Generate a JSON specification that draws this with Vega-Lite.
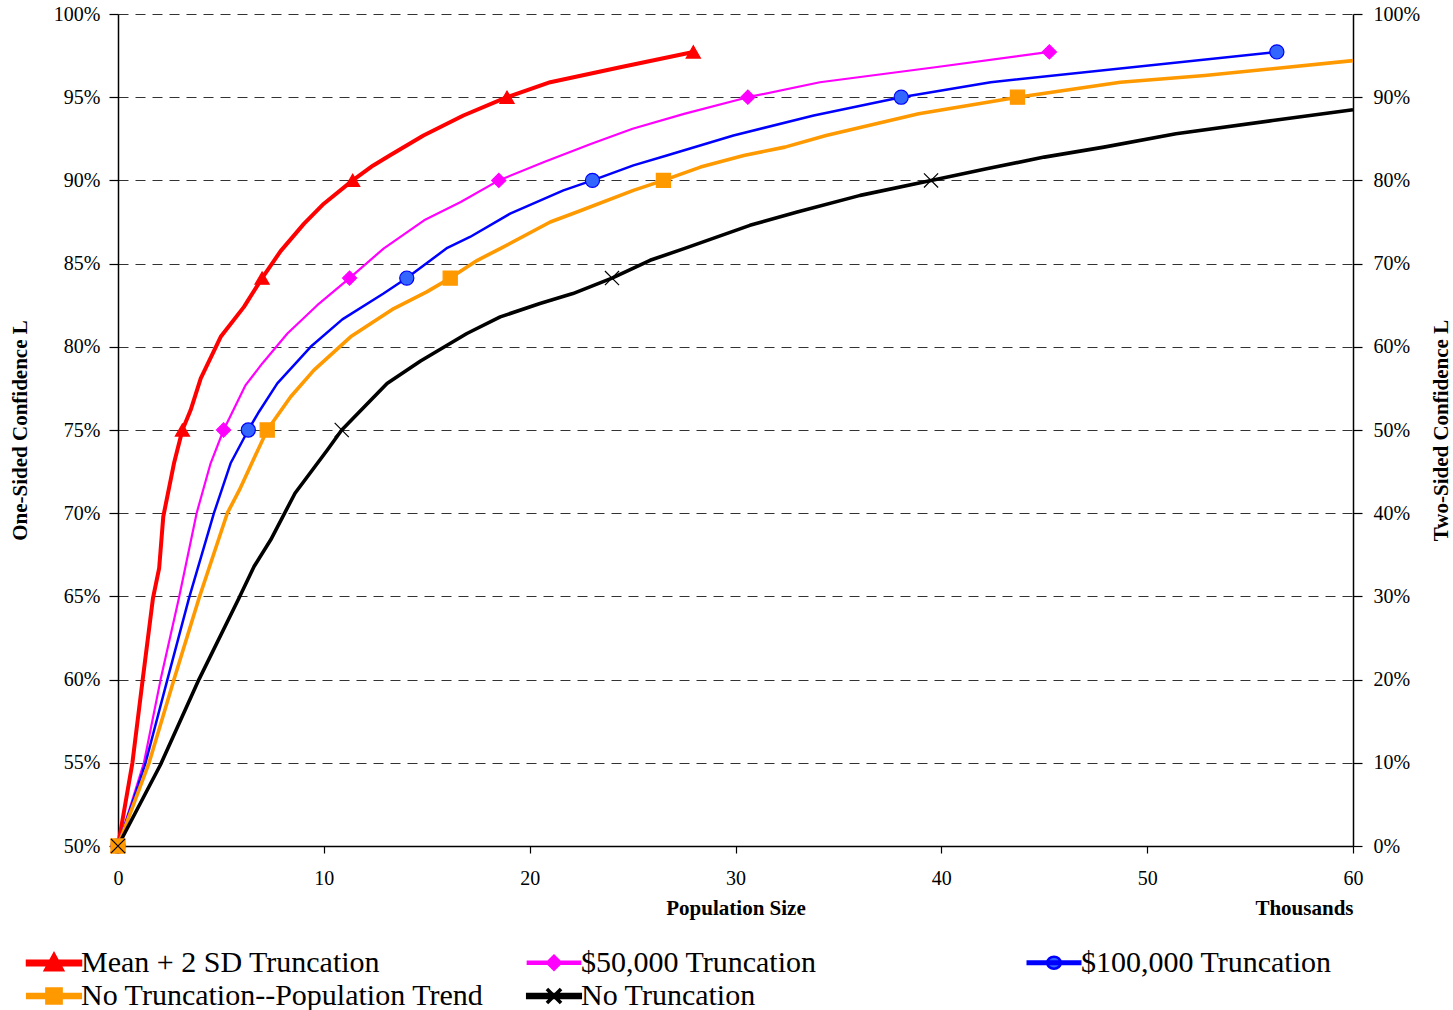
{
  "$schema": "https://vega.github.io/schema/vega-lite/v6.json",
  "width": 1235,
  "height": 832,
  "autosize": {"type": "none"},
  "padding": {"left": 118, "top": 14, "right": 100, "bottom": 164},
  "background": "white",
  "config": {"view": {"stroke": null}, "font": "Liberation Serif"},
  "datasets": {
    "curves": [
      {"series": "Mean + 2 SD Truncation", "x": 0, "p": 0.5},
      {"series": "Mean + 2 SD Truncation", "x": 0.7, "p": 0.55},
      {"series": "Mean + 2 SD Truncation", "x": 1.2, "p": 0.6},
      {"series": "Mean + 2 SD Truncation", "x": 1.7, "p": 0.649},
      {"series": "Mean + 2 SD Truncation", "x": 2.0, "p": 0.667},
      {"series": "Mean + 2 SD Truncation", "x": 2.2, "p": 0.698},
      {"series": "Mean + 2 SD Truncation", "x": 2.72, "p": 0.73},
      {"series": "Mean + 2 SD Truncation", "x": 3.13, "p": 0.75},
      {"series": "Mean + 2 SD Truncation", "x": 3.53, "p": 0.762},
      {"series": "Mean + 2 SD Truncation", "x": 4.02, "p": 0.781},
      {"series": "Mean + 2 SD Truncation", "x": 4.99, "p": 0.806},
      {"series": "Mean + 2 SD Truncation", "x": 6.12, "p": 0.824},
      {"series": "Mean + 2 SD Truncation", "x": 7.0, "p": 0.8413},
      {"series": "Mean + 2 SD Truncation", "x": 7.9, "p": 0.8575},
      {"series": "Mean + 2 SD Truncation", "x": 9.04, "p": 0.874},
      {"series": "Mean + 2 SD Truncation", "x": 10.0, "p": 0.886},
      {"series": "Mean + 2 SD Truncation", "x": 11.4, "p": 0.9},
      {"series": "Mean + 2 SD Truncation", "x": 12.4, "p": 0.909},
      {"series": "Mean + 2 SD Truncation", "x": 13.2, "p": 0.915},
      {"series": "Mean + 2 SD Truncation", "x": 14.84, "p": 0.927},
      {"series": "Mean + 2 SD Truncation", "x": 16.78, "p": 0.939},
      {"series": "Mean + 2 SD Truncation", "x": 18.9, "p": 0.95},
      {"series": "Mean + 2 SD Truncation", "x": 21.0, "p": 0.959},
      {"series": "Mean + 2 SD Truncation", "x": 24.4, "p": 0.968},
      {"series": "Mean + 2 SD Truncation", "x": 27.95, "p": 0.9772},
      {"series": "$50,000 Truncation", "x": 0, "p": 0.5},
      {"series": "$50,000 Truncation", "x": 1.26, "p": 0.55},
      {"series": "$50,000 Truncation", "x": 2.07, "p": 0.6},
      {"series": "$50,000 Truncation", "x": 2.96, "p": 0.649},
      {"series": "$50,000 Truncation", "x": 3.82, "p": 0.7},
      {"series": "$50,000 Truncation", "x": 4.5, "p": 0.73},
      {"series": "$50,000 Truncation", "x": 5.13, "p": 0.75},
      {"series": "$50,000 Truncation", "x": 6.2, "p": 0.777},
      {"series": "$50,000 Truncation", "x": 7.01, "p": 0.79},
      {"series": "$50,000 Truncation", "x": 8.23, "p": 0.808},
      {"series": "$50,000 Truncation", "x": 9.68, "p": 0.825},
      {"series": "$50,000 Truncation", "x": 11.25, "p": 0.8413},
      {"series": "$50,000 Truncation", "x": 12.9, "p": 0.859},
      {"series": "$50,000 Truncation", "x": 14.87, "p": 0.876},
      {"series": "$50,000 Truncation", "x": 16.65, "p": 0.887},
      {"series": "$50,000 Truncation", "x": 18.5, "p": 0.9},
      {"series": "$50,000 Truncation", "x": 20.7, "p": 0.911},
      {"series": "$50,000 Truncation", "x": 23.0, "p": 0.922},
      {"series": "$50,000 Truncation", "x": 25.0, "p": 0.931},
      {"series": "$50,000 Truncation", "x": 27.5, "p": 0.94},
      {"series": "$50,000 Truncation", "x": 30.6, "p": 0.95},
      {"series": "$50,000 Truncation", "x": 34.1, "p": 0.959},
      {"series": "$50,000 Truncation", "x": 39.7, "p": 0.968},
      {"series": "$50,000 Truncation", "x": 45.25, "p": 0.9772},
      {"series": "$100,000 Truncation", "x": 0, "p": 0.5},
      {"series": "$100,000 Truncation", "x": 1.34, "p": 0.55},
      {"series": "$100,000 Truncation", "x": 2.4, "p": 0.6},
      {"series": "$100,000 Truncation", "x": 3.45, "p": 0.649},
      {"series": "$100,000 Truncation", "x": 4.66, "p": 0.7},
      {"series": "$100,000 Truncation", "x": 5.47, "p": 0.73},
      {"series": "$100,000 Truncation", "x": 6.33, "p": 0.75},
      {"series": "$100,000 Truncation", "x": 6.85, "p": 0.761},
      {"series": "$100,000 Truncation", "x": 7.74, "p": 0.778},
      {"series": "$100,000 Truncation", "x": 9.36, "p": 0.8},
      {"series": "$100,000 Truncation", "x": 10.9, "p": 0.8165},
      {"series": "$100,000 Truncation", "x": 12.9, "p": 0.832},
      {"series": "$100,000 Truncation", "x": 14.03, "p": 0.8413},
      {"series": "$100,000 Truncation", "x": 16.0, "p": 0.8595},
      {"series": "$100,000 Truncation", "x": 17.1, "p": 0.866},
      {"series": "$100,000 Truncation", "x": 19.05, "p": 0.88},
      {"series": "$100,000 Truncation", "x": 21.64, "p": 0.894},
      {"series": "$100,000 Truncation", "x": 23.05, "p": 0.9},
      {"series": "$100,000 Truncation", "x": 25.04, "p": 0.909},
      {"series": "$100,000 Truncation", "x": 26.66, "p": 0.915},
      {"series": "$100,000 Truncation", "x": 29.9, "p": 0.927},
      {"series": "$100,000 Truncation", "x": 33.8, "p": 0.939},
      {"series": "$100,000 Truncation", "x": 38.05, "p": 0.95},
      {"series": "$100,000 Truncation", "x": 42.4, "p": 0.959},
      {"series": "$100,000 Truncation", "x": 56.3, "p": 0.9772},
      {"series": "No Truncation--Population Trend", "x": 0, "p": 0.5},
      {"series": "No Truncation--Population Trend", "x": 1.51, "p": 0.55},
      {"series": "No Truncation--Population Trend", "x": 2.72, "p": 0.6},
      {"series": "No Truncation--Population Trend", "x": 3.94, "p": 0.649},
      {"series": "No Truncation--Population Trend", "x": 5.31, "p": 0.7},
      {"series": "No Truncation--Population Trend", "x": 5.9, "p": 0.714},
      {"series": "No Truncation--Population Trend", "x": 6.61, "p": 0.733},
      {"series": "No Truncation--Population Trend", "x": 7.25, "p": 0.75},
      {"series": "No Truncation--Population Trend", "x": 8.39, "p": 0.77},
      {"series": "No Truncation--Population Trend", "x": 9.52, "p": 0.786},
      {"series": "No Truncation--Population Trend", "x": 11.3, "p": 0.806},
      {"series": "No Truncation--Population Trend", "x": 13.4, "p": 0.823},
      {"series": "No Truncation--Population Trend", "x": 15.0, "p": 0.833},
      {"series": "No Truncation--Population Trend", "x": 16.14, "p": 0.8413},
      {"series": "No Truncation--Population Trend", "x": 17.46, "p": 0.852},
      {"series": "No Truncation--Population Trend", "x": 18.57, "p": 0.859},
      {"series": "No Truncation--Population Trend", "x": 21.0, "p": 0.875},
      {"series": "No Truncation--Population Trend", "x": 22.3, "p": 0.881},
      {"series": "No Truncation--Population Trend", "x": 25.04, "p": 0.894},
      {"series": "No Truncation--Population Trend", "x": 26.5, "p": 0.9},
      {"series": "No Truncation--Population Trend", "x": 28.3, "p": 0.908},
      {"series": "No Truncation--Population Trend", "x": 30.4, "p": 0.915},
      {"series": "No Truncation--Population Trend", "x": 32.4, "p": 0.92},
      {"series": "No Truncation--Population Trend", "x": 34.4, "p": 0.927},
      {"series": "No Truncation--Population Trend", "x": 38.9, "p": 0.94},
      {"series": "No Truncation--Population Trend", "x": 43.7, "p": 0.95},
      {"series": "No Truncation--Population Trend", "x": 48.7, "p": 0.959},
      {"series": "No Truncation--Population Trend", "x": 52.8, "p": 0.963},
      {"series": "No Truncation--Population Trend", "x": 60, "p": 0.972},
      {"series": "No Truncation", "x": 0, "p": 0.5},
      {"series": "No Truncation", "x": 2.07, "p": 0.549},
      {"series": "No Truncation", "x": 3.93, "p": 0.6},
      {"series": "No Truncation", "x": 5.88, "p": 0.649},
      {"series": "No Truncation", "x": 6.61, "p": 0.668},
      {"series": "No Truncation", "x": 7.42, "p": 0.684},
      {"series": "No Truncation", "x": 8.6, "p": 0.712},
      {"series": "No Truncation", "x": 10.17, "p": 0.738},
      {"series": "No Truncation", "x": 10.87, "p": 0.75},
      {"series": "No Truncation", "x": 13.07, "p": 0.778},
      {"series": "No Truncation", "x": 14.7, "p": 0.7915},
      {"series": "No Truncation", "x": 16.95, "p": 0.808},
      {"series": "No Truncation", "x": 18.57, "p": 0.818},
      {"series": "No Truncation", "x": 20.5, "p": 0.826},
      {"series": "No Truncation", "x": 22.1, "p": 0.832},
      {"series": "No Truncation", "x": 24.0, "p": 0.8413},
      {"series": "No Truncation", "x": 25.85, "p": 0.852},
      {"series": "No Truncation", "x": 27.5, "p": 0.859},
      {"series": "No Truncation", "x": 30.7, "p": 0.873},
      {"series": "No Truncation", "x": 33.0, "p": 0.881},
      {"series": "No Truncation", "x": 36.06, "p": 0.891},
      {"series": "No Truncation", "x": 39.5, "p": 0.9},
      {"series": "No Truncation", "x": 42.2, "p": 0.907},
      {"series": "No Truncation", "x": 45.0, "p": 0.914},
      {"series": "No Truncation", "x": 47.9, "p": 0.92},
      {"series": "No Truncation", "x": 51.4, "p": 0.928},
      {"series": "No Truncation", "x": 56.1, "p": 0.936},
      {"series": "No Truncation", "x": 60, "p": 0.9425}
    ],
    "markers": [
      {"series": "Mean + 2 SD Truncation", "x": 0, "p": 0.5, "two_sided": 0},
      {"series": "Mean + 2 SD Truncation", "x": 3.13, "p": 0.75, "two_sided": 0.5},
      {"series": "Mean + 2 SD Truncation", "x": 7.0, "p": 0.8413, "two_sided": 0.6826},
      {"series": "Mean + 2 SD Truncation", "x": 11.4, "p": 0.9, "two_sided": 0.8},
      {"series": "Mean + 2 SD Truncation", "x": 18.9, "p": 0.95, "two_sided": 0.9},
      {"series": "Mean + 2 SD Truncation", "x": 27.95, "p": 0.9772, "two_sided": 0.9544},
      {"series": "$50,000 Truncation", "x": 0, "p": 0.5, "two_sided": 0},
      {"series": "$50,000 Truncation", "x": 5.13, "p": 0.75, "two_sided": 0.5},
      {"series": "$50,000 Truncation", "x": 11.25, "p": 0.8413, "two_sided": 0.6826},
      {"series": "$50,000 Truncation", "x": 18.5, "p": 0.9, "two_sided": 0.8},
      {"series": "$50,000 Truncation", "x": 30.6, "p": 0.95, "two_sided": 0.9},
      {"series": "$50,000 Truncation", "x": 45.25, "p": 0.9772, "two_sided": 0.9544},
      {"series": "$100,000 Truncation", "x": 0, "p": 0.5, "two_sided": 0},
      {"series": "$100,000 Truncation", "x": 6.33, "p": 0.75, "two_sided": 0.5},
      {"series": "$100,000 Truncation", "x": 14.03, "p": 0.8413, "two_sided": 0.6826},
      {"series": "$100,000 Truncation", "x": 23.05, "p": 0.9, "two_sided": 0.8},
      {"series": "$100,000 Truncation", "x": 38.05, "p": 0.95, "two_sided": 0.9},
      {"series": "$100,000 Truncation", "x": 56.3, "p": 0.9772, "two_sided": 0.9544},
      {"series": "No Truncation--Population Trend", "x": 0, "p": 0.5, "two_sided": 0},
      {"series": "No Truncation--Population Trend", "x": 7.25, "p": 0.75, "two_sided": 0.5},
      {"series": "No Truncation--Population Trend", "x": 16.14, "p": 0.8413, "two_sided": 0.6826},
      {"series": "No Truncation--Population Trend", "x": 26.5, "p": 0.9, "two_sided": 0.8},
      {"series": "No Truncation--Population Trend", "x": 43.7, "p": 0.95, "two_sided": 0.9},
      {"series": "No Truncation", "x": 0, "p": 0.5, "two_sided": 0},
      {"series": "No Truncation", "x": 10.87, "p": 0.75, "two_sided": 0.5},
      {"series": "No Truncation", "x": 24.0, "p": 0.8413, "two_sided": 0.6826},
      {"series": "No Truncation", "x": 39.5, "p": 0.9, "two_sided": 0.8}
    ]
  },
  "layer": [
    {
      "layer": [
        {
          "data": {"name": "curves"},
          "mark": {"type": "line", "strokeJoin": "round", "strokeCap": "butt"},
          "encoding": {
            "x": {
              "field": "x", "type": "quantitative",
              "scale": {"domain": [0, 60], "nice": false, "zero": false},
              "axis": {
                "orient": "bottom", "values": [0, 10, 20, 30, 40, 50, 60], "format": "d",
                "grid": false, "tickSize": 7, "tickColor": "black", "tickWidth": 1.2,
                "domainColor": "black", "domainWidth": 1.5, "labelFlush": false,
                "labelFont": "Liberation Serif", "labelFontSize": 20, "labelColor": "black", "labelPadding": 15,
                "title": "Population Size", "titleFont": "Liberation Serif", "titleFontSize": 21,
                "titleFontWeight": "bold", "titleColor": "black", "titlePadding": 9
              }
            },
            "y": {
              "field": "p", "type": "quantitative",
              "scale": {"domain": [0.5, 1], "nice": false, "zero": false},
              "axis": {
                "orient": "left", "values": [0.5, 0.55, 0.6, 0.65, 0.7, 0.75, 0.8, 0.85, 0.9, 0.95, 1.0],
                "format": ".0%", "grid": true, "gridDash": [10, 7], "gridColor": "#333333", "gridWidth": 1, "gridOpacity": 1,
                "tickSize": 9, "tickColor": "black", "tickWidth": 1.2,
                "domainColor": "black", "domainWidth": 1.5, "labelFlush": false,
                "labelFont": "Liberation Serif", "labelFontSize": 20, "labelColor": "black", "labelPadding": 9,
                "title": "One-Sided Confidence L", "titleFont": "Liberation Serif", "titleFontSize": 21,
                "titleFontWeight": "bold", "titleColor": "black", "titlePadding": 23
              }
            },
            "stroke": {
              "field": "series", "type": "nominal",
              "scale": {
                "domain": ["Mean + 2 SD Truncation", "$50,000 Truncation", "$100,000 Truncation", "No Truncation--Population Trend", "No Truncation"],
                "range": ["#FF0000", "#FF00FF", "#0000FF", "#FF9900", "#000000"]
              },
              "legend": {
                "orient": "none", "legendX": -81, "legendY": 932, "columns": 3, "direction": "horizontal", "title": null,
                "padding": 0, "gridAlign": "all", "columnPadding": 36, "rowPadding": 1,
                "labelFont": "Liberation Serif", "labelFontSize": 30, "labelColor": "black",
                "labelLimit": 1000, "labelOffset": 10,
                "symbolSize": 900, "symbolStrokeWidth": 1,
                "encoding": {
                  "symbols": {
                    "shape": {"value": {"expr": "datum.value === 'Mean + 2 SD Truncation' ? 'M-1.75,-0.1H1.75V0.1H-1.75Z M0,-0.52L0.52,0.43L-0.52,0.43Z' : datum.value === '$50,000 Truncation' ? 'M-1.75,-0.07H1.75V0.07H-1.75Z M0,-0.48L0.48,0L0,0.48L-0.48,0Z' : datum.value === '$100,000 Truncation' ? 'M-1.75,-0.08H1.75V0.08H-1.75Z M-0.45,0A0.45,0.4 0 1,1 0.45,0A0.45,0.4 0 1,1 -0.45,0Z' : datum.value === 'No Truncation--Population Trend' ? 'M-1.75,-0.1H1.75V0.1H-1.75Z M-0.47,-0.47H0.47V0.47H-0.47Z' : 'M-1.75,-0.1H1.75V0.1H-1.75Z M-0.47,-0.47L0.47,0.47M-0.47,0.47L0.47,-0.47'"}},
                    "fill": {"value": {"expr": "datum.value === 'Mean + 2 SD Truncation' ? '#FF0000' : datum.value === '$50,000 Truncation' ? '#FF00FF' : datum.value === '$100,000 Truncation' ? '#3366FF' : datum.value === 'No Truncation--Population Trend' ? '#FF9900' : '#000000'"}},
                    "strokeWidth": {"value": 1},
                    "opacity": {"value": 1}
                  }
                }
              }
            },
            "strokeWidth": {
              "field": "series", "type": "ordinal",
              "scale": {
                "type": "ordinal",
                "domain": ["Mean + 2 SD Truncation", "$50,000 Truncation", "$100,000 Truncation", "No Truncation--Population Trend", "No Truncation"],
                "range": [4, 2.2, 2.5, 3.6, 3.6]
              },
              "legend": null
            }
          }
        },
        {
          "data": {"name": "markers"},
          "mark": {"type": "point", "filled": true, "size": 200, "strokeWidth": 1.2, "opacity": 1},
          "encoding": {
            "x": {"field": "x", "type": "quantitative"},
            "y": {"field": "p", "type": "quantitative"},
            "stroke": {"field": "series", "type": "nominal", "legend": null},
            "fill": {
              "field": "series", "type": "nominal",
              "scale": {
                "domain": ["No Truncation", "No Truncation--Population Trend", "$100,000 Truncation", "$50,000 Truncation", "Mean + 2 SD Truncation"],
                "range": ["#000000", "#FF9900", "#3366FF", "#FF00FF", "#FF0000"]
              },
              "legend": null
            },
            "shape": {
              "field": "series", "type": "nominal",
              "scale": {
                "domain": ["$50,000 Truncation", "Mean + 2 SD Truncation", "No Truncation", "$100,000 Truncation", "No Truncation--Population Trend"],
                "range": ["diamond", "triangle-up", "M-1,-1L1,1M-1,1L1,-1", "circle", "square"]
              },
              "legend": null
            }
          }
        }
      ]
    },
    {
      "data": {"name": "markers"},
      "mark": {"type": "point", "opacity": 0},
      "encoding": {
        "x": {
          "field": "x", "type": "quantitative",
          "scale": {"domain": [0, 60], "nice": false, "zero": false},
          "axis": {
            "orient": "bottom", "labels": false, "ticks": false, "domain": false, "grid": false,
            "title": "Thousands", "titleAnchor": "end", "titleFont": "Liberation Serif", "titleFontSize": 21,
            "titleFontWeight": "bold", "titleColor": "black", "titlePadding": 51
          }
        },
        "y": {
          "field": "two_sided", "type": "quantitative",
          "scale": {"domain": [0, 1], "nice": false, "zero": false},
          "axis": {
            "orient": "right", "values": [0, 0.1, 0.2, 0.3, 0.4, 0.5, 0.6, 0.7, 0.8, 0.9, 1.0],
            "format": ".0%", "grid": false, "labelFlush": false,
            "tickSize": 9, "tickColor": "black", "tickWidth": 1.2,
            "domainColor": "black", "domainWidth": 1.5,
            "labelFont": "Liberation Serif", "labelFontSize": 20, "labelColor": "black", "labelPadding": 11,
            "title": "Two-Sided Confidence L", "titleFont": "Liberation Serif", "titleFontSize": 21,
            "titleFontWeight": "bold", "titleColor": "black", "titlePadding": 32, "titleAngle": 270
          }
        }
      }
    }
  ],
  "resolve": {"scale": {"x": "independent", "y": "independent"}}
}
